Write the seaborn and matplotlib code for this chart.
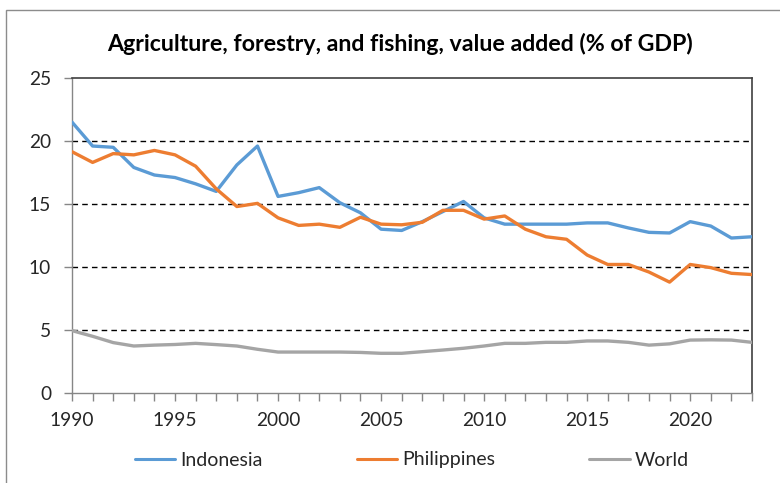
import numpy as np
import pandas as pd
import seaborn as sns
import matplotlib.pyplot as plt
from matplotlib.patches import Rectangle
from matplotlib.lines import Line2D

years = list(range(1990, 2024))

indonesia = [21.5, 19.6, 19.5, 17.9, 17.3, 17.1, 16.6, 16.0, 18.1, 19.6,
             15.6, 15.9, 16.3, 15.1, 14.3, 13.0, 12.9, 13.6, 14.4, 15.2,
             13.9, 13.4, 13.4, 13.4, 13.4, 13.5, 13.5, 13.1, 12.75, 12.7,
             13.6, 13.25, 12.3, 12.4]

philippines = [19.15, 18.3, 19.0, 18.9, 19.25, 18.9, 18.0, 16.2, 14.8, 15.05,
               13.9, 13.3, 13.4, 13.15, 13.95, 13.4, 13.35, 13.55, 14.5, 14.5,
               13.8, 14.05, 13.0, 12.4, 12.2, 10.95, 10.2, 10.2, 9.6, 8.8,
               10.2, 9.95, 9.5, 9.4]

world = [4.95, 4.5, 4.0, 3.73, 3.8, 3.85, 3.94, 3.84, 3.73, 3.47,
         3.25, 3.25, 3.25, 3.25, 3.22, 3.15, 3.15, 3.28, 3.41, 3.55,
         3.73, 3.94, 3.94, 4.02, 4.02, 4.13, 4.13, 4.02, 3.8, 3.9,
         4.2, 4.22, 4.2, 4.02]

series_names = ["Indonesia", "Philippines", "World"]
series_colors = ["#5B9BD5", "#ED7D31", "#A5A5A5"]
y_ticks = [0, 5, 10, 15, 20, 25]
x_label_years = [1990, 1995, 2000, 2005, 2010, 2015, 2020]
title = "Agriculture, forestry, and fishing, value added (% of GDP)"

df = pd.DataFrame({
    "Year": years * 3,
    "Value": indonesia + philippines + world,
    "Country": sum([[n] * len(years) for n in series_names], []),
})

sns.set_theme(style="white")
plt.rcParams["font.family"] = ["Lato", "DejaVu Sans"]

fig = plt.figure(figsize=(7.8, 4.83), dpi=100)
ax = fig.add_axes([72 / 780, 1 - 393 / 483, 680 / 780, 315 / 483])

# chart-area frame
fig.patches.append(Rectangle((6 / 780, -0.1), 1.2, 1 - 10 / 483 + 0.1,
                             transform=fig.transFigure, fill=False,
                             edgecolor="#8C8C8C", linewidth=1.0))

# dashed horizontal gridlines
for v in y_ticks[1:-1]:
    ax.axhline(v, color="black", linewidth=1.0, linestyle=(0, (4, 3)), zorder=1)

palette = dict(zip(series_names, series_colors))
sns.lineplot(data=df, x="Year", y="Value", hue="Country", palette=palette,
             linewidth=2.4, ax=ax, legend=False, zorder=3)

ax.set_xlim(years[0], years[-1])
ax.set_ylim(0, 25)
ax.set_xlabel("")
ax.set_ylabel("")

ax.set_yticks(y_ticks)
ax.set_xticks(years)
ax.set_xticklabels([str(y) if y in x_label_years else "" for y in years])

ax.tick_params(axis="both", which="major", direction="out", length=6, width=1,
               color="#868686", labelsize=13.8, labelcolor="#262626")
ax.tick_params(axis="y", pad=9, left=True)
ax.tick_params(axis="x", pad=8, bottom=True)

for side in ["left", "bottom"]:
    ax.spines[side].set_color("#868686")
    ax.spines[side].set_linewidth(1.0)
for side in ["top", "right"]:
    ax.spines[side].set_color("#404040")
    ax.spines[side].set_linewidth(1.2)

fig.text(400 / 780, 1 - 44 / 483, title, ha="center", va="center",
         fontsize=16.7, fontweight="bold", color="black")

handles = [Line2D([0], [0], color=c, linewidth=2.2) for c in series_colors]
fig.legend(handles, series_names, loc="center", bbox_to_anchor=(412 / 780, 1 - 460 / 483),
           ncol=3, frameon=False, fontsize=14, handlelength=2.06, handletextpad=0.26,
           columnspacing=4.85, labelcolor="#262626")

fig.savefig("out.png", dpi=100)
